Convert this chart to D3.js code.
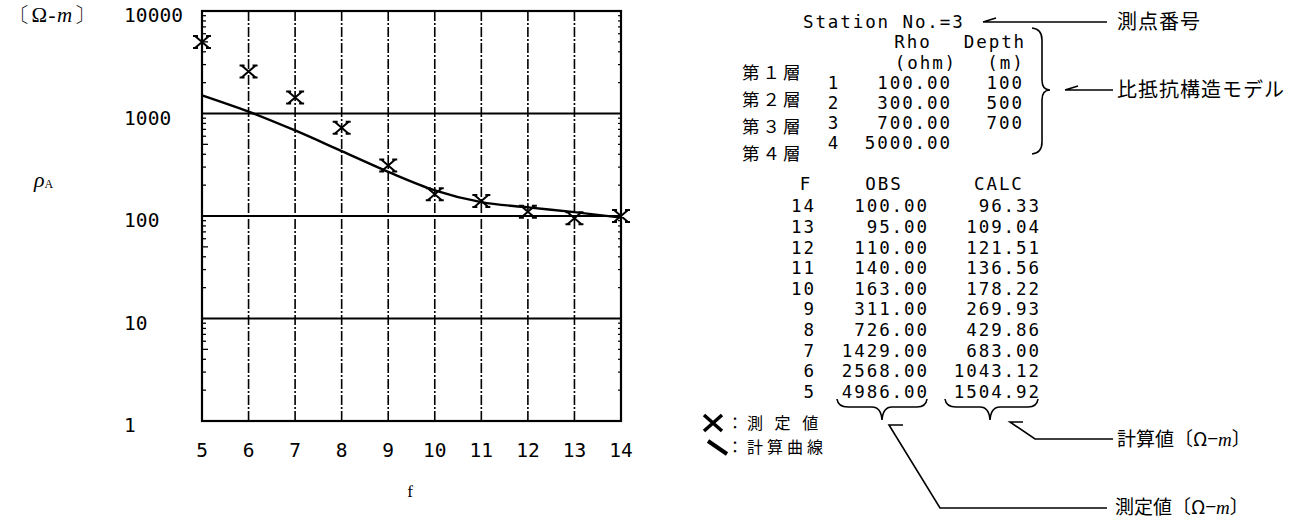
<!DOCTYPE html>
<html><head><meta charset="utf-8">
<script src="https://cdn.jsdelivr.net/npm/d3@7"></script>
<style>
body{margin:0;background:#fff;}
svg{display:block;}
.mono{font-family:"DejaVu Sans Mono","Liberation Mono",monospace;fill:#000;}
.jp{font-family:"Noto Sans CJK JP","Noto Sans CJK SC",sans-serif;fill:#000;}
.serif{font-family:"Liberation Serif","DejaVu Serif",serif;fill:#000;}
</style>
</head><body>
<script>
// ---- data ----
const freqs = [5, 6, 7, 8, 9, 10, 11, 12, 13, 14];
const obsValues = [4986.00, 2568.00, 1429.00, 726.00, 311.00, 163.00, 140.00, 110.00, 95.00, 100.00];
const calcValues = [1504.92, 1043.12, 683.00, 429.86, 269.93, 178.22, 136.56, 121.51, 109.04, 96.33];
const yTickValues = [1, 10, 100, 1000, 10000];
const yTickLabels = ["1", "10", "100", "1000", "10000"];
const xTickLabels = ["5","6","7","8","9","10","11","12","13","14"];
const layerNames = ["第１層", "第２層", "第３層", "第４層"];
const layerIdx = [1, 2, 3, 4];
const layerRho = ["100.00", "300.00", "700.00", "5000.00"];
const layerDepth = ["100", "500", "700", ""];
const stationNo = 3;

const W = 1310, H = 522;
const svg = d3.select("body").append("svg").attr("width", W).attr("height", H);

// ---- chart ----
const x = d3.scaleLinear().domain([5, 14]).range([202, 621]);
const y = d3.scaleLog().domain([1, 10000]).range([421, 11]);

const g = svg.append("g");

// vertical gridlines
g.selectAll(".vg").data(freqs.slice(1, -1)).enter().append("line")
  .attr("x1", d => x(d)).attr("x2", d => x(d))
  .attr("y1", y(10000)).attr("y2", y(1))
  .attr("stroke", "#000").attr("stroke-width", 1.6)
  .attr("stroke-dasharray", "10,2,2,2");
// horizontal gridlines
g.selectAll(".hg").data([10, 100, 1000]).enter().append("line")
  .attr("x1", x(5)).attr("x2", x(14))
  .attr("y1", d => y(d)).attr("y2", d => y(d))
  .attr("stroke", "#000").attr("stroke-width", 2);

// minor ticks (log)
const minor = [];
for (let k = 0; k < 4; k++) for (let m = 2; m <= 9; m++) minor.push(m * Math.pow(10, k));
g.selectAll(".mt").data(minor).enter().append("line")
  .attr("x1", x(5)).attr("x2", d => x(5) + (String(d)[0] === "5" ? 6 : 4))
  .attr("y1", d => y(d)).attr("y2", d => y(d))
  .attr("stroke", "#000").attr("stroke-width", 1.3);
g.selectAll(".mtr").data(minor).enter().append("line")
  .attr("x1", x(14)).attr("x2", x(14) - 3)
  .attr("y1", d => y(d)).attr("y2", d => y(d))
  .attr("stroke", "#000").attr("stroke-width", 1.2);

// frame
g.append("rect").attr("x", x(5)).attr("y", y(10000))
  .attr("width", x(14) - x(5)).attr("height", y(1) - y(10000))
  .attr("fill", "none").attr("stroke", "#000").attr("stroke-width", 2.2);

// y tick labels
g.selectAll(".yl").data(yTickValues).enter().append("text")
  .attr("class", "mono").attr("x", 124).attr("y", d => y(d) + 11)
  .attr("font-size", 19.5).attr("letter-spacing", 0.1)
  .text((d, i) => yTickLabels[i]);

// x tick labels
g.selectAll(".xl").data(freqs).enter().append("text")
  .attr("class", "mono").attr("x", d => x(d)).attr("y", 457)
  .attr("text-anchor", "middle").attr("font-size", 19.5)
  .text((d, i) => xTickLabels[i]);

// axis titles
svg.append("text").attr("class", "serif").attr("x", 9).attr("y", 22).attr("font-size", 21).attr("letter-spacing", 1.5)
  .html('〔Ω-<tspan font-style="italic">m</tspan>〕');
svg.append("text").attr("class", "serif").attr("x", 34).attr("y", 187).attr("font-size", 22)
  .attr("font-style", "italic").html('ρ<tspan font-size="12" font-style="normal" dy="1">A</tspan>');
svg.append("text").attr("class", "serif").attr("x", 410).attr("y", 497).attr("font-size", 17)
  .attr("text-anchor", "middle").text("f");

// calc curve
g.append("path").datum(calcValues)
  .attr("d", d3.line().x((d, i) => x(freqs[i])).y(d => y(d)).curve(d3.curveMonotoneX))
  .attr("fill", "none").attr("stroke", "#000").attr("stroke-width", 2.4);

// observed markers
const mk = "M-7,-6L7,6M-7,6L7,-6M-9,-6L-4,-6M4,-6L9,-6M-9,6L-4,6M4,6L9,6";
g.selectAll(".obs").data(obsValues).enter().append("path")
  .attr("transform", (d, i) => `translate(${x(freqs[i])},${y(d)})`)
  .attr("d", mk).attr("fill", "none").attr("stroke", "#000").attr("stroke-width", 2);

// ---- right panel: text ----
const R = svg.append("g");
const fs = 17.5, ls = 1.9;
function mono(xp, yc, txt, anchor) {
  let dx = 0;
  if (anchor === "end") dx = ls;
  else if (anchor === "middle") dx = ls / 2;
  return R.append("text").attr("class", "mono")
    .attr("x", xp + dx).attr("y", yc + 6.3)
    .attr("font-size", fs).attr("letter-spacing", ls)
    .attr("text-anchor", anchor || "start").text(txt);
}
mono(803, 22, "Station No.=" + stationNo, "start");
mono(912, 42, "Rho", "middle");
mono(994, 42, "Depth", "middle");
mono(925, 63, "(ohm)", "middle");
mono(1005, 63, "(m)", "middle");

const layerY = [83, 103, 123, 143];
layerIdx.forEach((d, i) => mono(833, layerY[i], String(d), "middle"));
layerRho.forEach((d, i) => mono(950, layerY[i], d, "end"));
layerDepth.forEach((d, i) => { if (d) mono(1022, layerY[i], d, "end"); });
const layerNameY = [72, 99, 126, 153];
R.selectAll(".ln").data(layerNames).enter().append("text").attr("class", "jp")
  .attr("x", 742).attr("y", (d, i) => layerNameY[i] + 6.5).attr("font-size", 17.5).attr("letter-spacing", 3).text(d => d);

// F / OBS / CALC table
const tf = freqs.slice().reverse();
const to = obsValues.slice().reverse();
const tc = calcValues.slice().reverse();
mono(805, 184, "F", "middle");
mono(883, 184, "OBS", "middle");
mono(998, 184, "CALC", "middle");
const rowY = i => 206 + i * 20.6;
tf.forEach((d, i) => mono(814, rowY(i), String(d), "end"));
to.forEach((d, i) => mono(927, rowY(i), d.toFixed(2), "end"));
tc.forEach((d, i) => mono(1039, rowY(i), d.toFixed(2), "end"));

// braces & annotation lines
function P(d) { return R.append("path").attr("d", d).attr("fill", "none").attr("stroke", "#000").attr("stroke-width", 1.6); }
P("M1032,28 Q1042,29 1042,40 L1042,80 Q1042,90 1050,90 Q1042,90 1042,100 L1042,142 Q1042,153 1032,154");
P("M837,399 Q838,407 848,407 L872,407 Q881,407 882,420 Q883,407 892,407 L917,407 Q926,407 927,399");
P("M945,399 Q946,407 956,407 L980,407 Q989,407 990,420 Q991,407 1000,407 L1028,407 Q1037,407 1038,399");
P("M983,22 L1107,22 M983,22 L996,18");
P("M1065,90 L1113,90 M1065,90 L1078,86");
P("M1023,422 L1010,422 L1035,439 L1113,439");
P("M903,425 L889,425 L940,508 L1107,508");

R.append("text").attr("class", "jp").attr("x", 1117).attr("y", 29).attr("font-size", 20).attr("letter-spacing", 1).text("測点番号");
R.append("text").attr("class", "jp").attr("x", 1117).attr("y", 97).attr("font-size", 20).attr("letter-spacing", 1).text("比抵抗構造モデル");
R.append("text").attr("class", "jp").attr("x", 1117).attr("y", 446).attr("font-size", 19).html('計算値〔Ω−<tspan font-family="Liberation Serif" font-style="italic">m</tspan>〕');
R.append("text").attr("class", "jp").attr("x", 1115).attr("y", 514).attr("font-size", 19).html('測定値〔Ω−<tspan font-family="Liberation Serif" font-style="italic">m</tspan>〕');

// legend
R.append("path").attr("d", "M704,415 L722,431 M704,431 L722,415").attr("stroke", "#000").attr("stroke-width", 3.5).attr("fill", "none");
R.append("text").attr("class", "jp").attr("x", 727).attr("y", 429).attr("font-size", 16).attr("letter-spacing", 4).text("：測 定 値");
R.append("path").attr("d", "M708,441 L727,454").attr("stroke", "#000").attr("stroke-width", 4).attr("fill", "none");
R.append("text").attr("class", "jp").attr("x", 727).attr("y", 453).attr("font-size", 16).attr("letter-spacing", 4).text("：計算曲線");
</script>
</body></html>
